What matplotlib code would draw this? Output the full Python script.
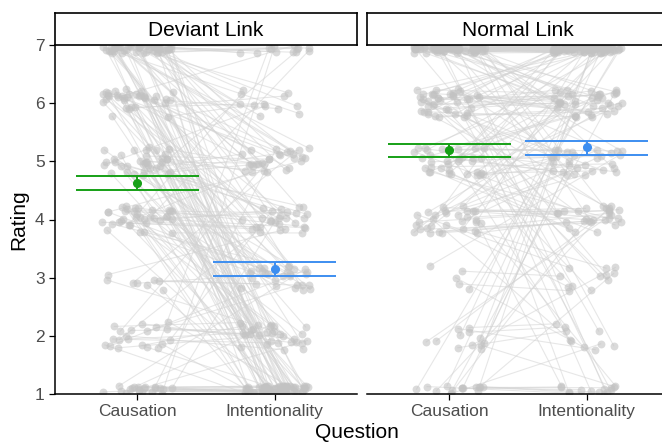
import numpy as np
import matplotlib
matplotlib.use('Agg')
import matplotlib.pyplot as plt

plt.rcParams['font.family'] = ['Liberation Sans', 'DejaVu Sans']

panels = ['Deviant Link', 'Normal Link']
questions = ['Causation', 'Intentionality']
ratings = [1, 2, 3, 4, 5, 6, 7]

# participant counts: rows = causation rating 1..7, cols = intentionality rating 1..7
deviant_counts = [
    [14, 2, 1, 1, 1, 0, 1],
    [4, 10, 2, 2, 1, 0, 1],
    [2, 1, 3, 1, 1, 0, 0],
    [10, 5, 6, 10, 2, 1, 1],
    [10, 4, 6, 5, 8, 1, 1],
    [10, 4, 5, 5, 6, 4, 1],
    [10, 4, 5, 4, 10, 6, 8],
]
normal_counts = [
    [6, 1, 1, 2, 1, 1, 3],
    [1, 4, 1, 2, 1, 1, 2],
    [0, 1, 2, 0, 1, 0, 1],
    [2, 1, 3, 12, 5, 3, 4],
    [2, 1, 2, 5, 12, 7, 6],
    [1, 1, 2, 4, 5, 17, 10],
    [2, 1, 1, 3, 5, 11, 42],
]

# mean and CI (lower, upper) per panel, per question
means = {'Deviant Link': [4.63, 3.15], 'Normal Link': [5.19, 5.25]}
ci_low = {'Deviant Link': [4.51, 3.03], 'Normal Link': [5.07, 5.11]}
ci_high = {'Deviant Link': [4.75, 3.27], 'Normal Link': [5.30, 5.35]}

colors = ['#16a016', '#3d8ef0']

W, H = 662, 443
fig = plt.figure(figsize=(W / 100, H / 100), dpi=100)


def spread(n, seed):
    # deterministic hash-like spread in [0,1) for jitter positions
    k = np.arange(n) + seed
    v = np.sin(k * 12.9898 + seed * 78.233) * 43758.5453
    return v - np.floor(v)


left_px = [55, 367]
width_px = 302
top_px, bottom_px = 45, 394

for p, (name, counts) in enumerate(zip(panels, [deviant_counts, normal_counts])):
    ax = fig.add_axes([left_px[p] / W, 1 - bottom_px / H,
                       width_px / W, (bottom_px - top_px) / H])
    c_vals, i_vals = [], []
    for ci, row in enumerate(counts):
        for ii, n in enumerate(row):
            c_vals += [ratings[ci]] * n
            i_vals += [ratings[ii]] * n
    c_vals = np.array(c_vals, float)
    i_vals = np.array(i_vals, float)
    n = len(c_vals)

    jx1 = (spread(n, 1 + p * 4) - 0.5) * 0.52
    jx2 = (spread(n, 2 + p * 4) - 0.5) * 0.52
    jy1 = (spread(n, 3 + p * 4) - 0.5) * 0.48
    jy2 = (spread(n, 4 + p * 4) - 0.5) * 0.48
    # keep jittered points inside the 1..7 scale
    jy1 = np.where(c_vals == 7, -np.abs(jy1) * 0.6, np.where(c_vals == 1, np.abs(jy1) * 0.6, jy1))
    jy2 = np.where(i_vals == 7, -np.abs(jy2) * 0.6, np.where(i_vals == 1, np.abs(jy2) * 0.6, jy2))

    x1 = 1 + jx1
    x2 = 2 + jx2
    y1 = c_vals + jy1
    y2 = i_vals + jy2

    for k in range(n):
        ax.plot([x1[k], x2[k]], [y1[k], y2[k]], color='#d3d3d3', lw=0.8,
                alpha=0.55, zorder=1)
    ax.scatter(np.r_[x1, x2], np.r_[y1, y2], s=32, color='#c2c2c2',
               alpha=0.6, linewidths=0, zorder=2)

    for q in range(2):
        xq = q + 1
        ax.hlines([ci_low[name][q], ci_high[name][q]], xq - 0.45, xq + 0.45,
                  color=colors[q], lw=1.4, zorder=3)
        ax.vlines(xq, ci_low[name][q], ci_high[name][q], color=colors[q],
                  lw=1.4, zorder=3)
        ax.plot(xq, means[name][q], 'o', color=colors[q], ms=5.5, zorder=4)

    ax.set_xlim(0.4, 2.6)
    ax.set_ylim(1, 7)
    ax.set_xticks([1, 2])
    ax.set_xticklabels(questions, fontsize=12.5, color='#4d4d4d')
    ax.set_yticks(ratings)
    ax.tick_params(length=4, width=0.9, color='black')
    for s in ['top', 'right']:
        ax.spines[s].set_visible(False)
    ax.spines['bottom'].set_linewidth(1.1)
    if p == 0:
        ax.set_yticklabels([str(r) for r in ratings], fontsize=12.5, color='#4d4d4d')
        ax.spines['left'].set_linewidth(1.1)
        ax.set_ylabel('Rating', fontsize=15, labelpad=5)
    else:
        ax.spines['left'].set_visible(False)
        ax.tick_params(axis='y', left=False, labelleft=False)

    # strip
    sax = fig.add_axes([left_px[p] / W, 1 - top_px / H, width_px / W, 32 / H])
    sax.set_xticks([])
    sax.set_yticks([])
    for s in sax.spines.values():
        s.set_linewidth(1.2)
    sax.text(0.5, 0.45, name, ha='center', va='center', fontsize=15,
             transform=sax.transAxes)

fig.text(357 / W, 1 - 432 / H, 'Question', ha='center', va='center', fontsize=15)

fig.savefig('out.png', dpi=100)
